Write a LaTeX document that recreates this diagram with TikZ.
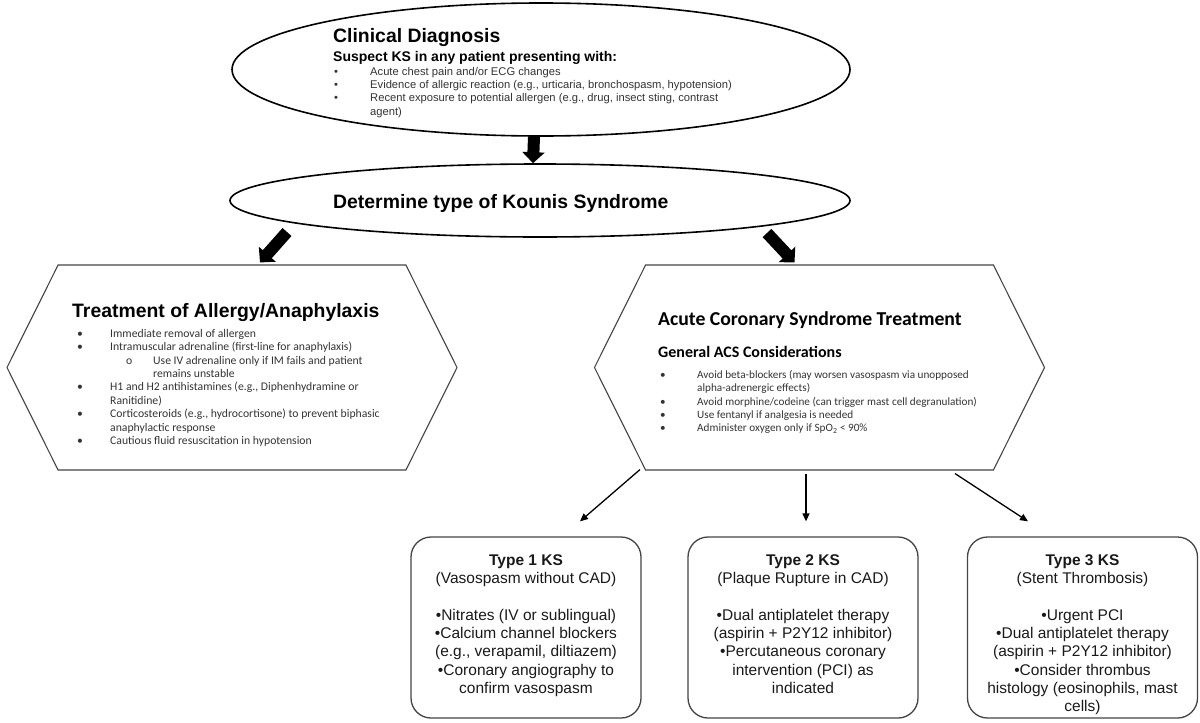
\documentclass[tikz,border=0pt]{standalone}
\usepackage{fontspec}
\setmainfont{Liberation Sans}
\newfontfamily\carl{Carlito}
\usetikzlibrary{shapes.geometric,shapes.symbols,arrows.meta}
\definecolor{ink}{HTML}{333333}
\definecolor{edge}{HTML}{444444}
\tikzstyle{oval} = [ellipse, draw=black, line width=1.6pt, inner sep=0pt]
\tikzstyle{hexa} = [signal, signal to=west and east, signal pointer angle=127, draw=edge, line width=1.1pt, minimum width=450pt, minimum height=205pt, inner sep=0pt]
\tikzstyle{kbox} = [rectangle, rounded corners=20pt, draw=edge, line width=1.3pt, minimum width=230pt, minimum height=181pt]
\tikzstyle{fat} = [line width=12pt, -{Triangle[width=22pt,length=11pt]}]
\tikzstyle{slim} = [line width=1.3pt, -{Triangle[width=7pt,length=8pt]}]
\tikzstyle{ttl} = [anchor=base west, inner sep=0pt, font=\bfseries\fontsize{19.4}{23}\selectfont]
\tikzstyle{pts} = [anchor=north west, align=left, inner sep=0pt, text=ink]
\tikzstyle{ktext} = [anchor=north, align=center, inner sep=0pt, text=black!90, font=\fontsize{15.5}{18.3}\selectfont]
\newcommand{\bt}[1]{\makebox[#1][l]{\textbullet}}

\begin{document}
\begin{tikzpicture}[x=1pt,y=-1pt]
\useasboundingbox (0,0) rectangle (1200,723);

\node[oval, minimum width=618pt, minimum height=133pt] (dx) at (541,69.5) {};
\node[ttl] (dxt) at (333,42) {Clinical Diagnosis};
\node[anchor=base west, inner sep=0pt, font=\bfseries\fontsize{14}{17}\selectfont] (dxs) at (333,61) {Suspect KS in any patient presenting with:};
\node[pts, font=\fontsize{11.2}{13.3}\selectfont] (dxl) at (334,67) {\bt{36pt}Acute chest pain and/or ECG changes\\
\bt{36pt}Evidence of allergic reaction (e.g., urticaria, bronchospasm, hypotension)\\
\bt{36pt}Recent exposure to potential allergen (e.g., drug, insect sting, contrast\\
\hspace*{36pt}agent)};

\node[oval, minimum width=620pt, minimum height=73pt] (kind) at (540,200.5) {};
\node[ttl] (kindt) at (333,208) {Determine type of Kounis Syndrome};

\node[hexa] (allg) at (232,367.5) {};
\node[ttl] (allgt) at (72,317) {Treatment of Allergy/Anaphylaxis};
\node[pts, font=\carl\fontsize{11.7}{13.4}\selectfont] (allgl) at (77,329) {\bt{33pt}Immediate removal of allergen\\
\bt{33pt}Intramuscular adrenaline (first-line for anaphylaxis)\\
\hspace*{49pt}\makebox[27pt][l]{o}Use IV adrenaline only if IM fails and patient\\
\hspace*{76pt}remains unstable\\
\bt{33pt}H1 and H2 antihistamines (e.g., Diphenhydramine or\\
\hspace*{33pt}Ranitidine)\\
\bt{33pt}Corticosteroids (e.g., hydrocortisone) to prevent biphasic\\
\hspace*{33pt}anaphylactic response\\
\bt{33pt}Cautious fluid resuscitation in hypotension};

\node[hexa] (acs) at (819.5,367.5) {};
\node[ttl, font=\carl\bfseries\fontsize{19.7}{23}\selectfont] (acst) at (658,325) {Acute Coronary Syndrome Treatment};
\node[ttl, font=\carl\bfseries\fontsize{16}{19}\selectfont] (acss) at (658,357) {General ACS Considerations};
\node[pts, font=\carl\fontsize{11.2}{13.4}\selectfont] (acsl) at (660,370) {\bt{37pt}Avoid beta-blockers (may worsen vasospasm via unopposed\\
\hspace*{37pt}alpha-adrenergic effects)\\
\bt{37pt}Avoid morphine/codeine (can trigger mast cell degranulation)\\
\bt{37pt}Use fentanyl if analgesia is needed\\
\bt{37pt}Administer oxygen only if SpO\textsubscript{2} < 90\%};

\node[kbox] (t1) at (526,627.5) {};
\node[kbox] (t2) at (803,627.5) {};
\node[kbox] (t3) at (1082.5,627.5) {};
\node[ktext] (t1t) at ([yshift=-18pt]t1.north) {\textbf{Type 1 KS}\\(Vasospasm without CAD)\\[18.3pt]
\textbullet Nitrates (IV or sublingual)\\\textbullet Calcium channel blockers\\(e.g., verapamil, diltiazem)\\\textbullet Coronary angiography to\\confirm vasospasm};
\node[ktext] (t2t) at ([yshift=-18pt]t2.north) {\textbf{Type 2 KS}\\(Plaque Rupture in CAD)\\[18.3pt]
\textbullet Dual antiplatelet therapy\\(aspirin + P2Y12 inhibitor)\\\textbullet Percutaneous coronary\\intervention (PCI) as\\indicated};
\node[ktext] (t3t) at ([yshift=-18pt]t3.north) {\textbf{Type 3 KS}\\(Stent Thrombosis)\\[18.3pt]
\textbullet Urgent PCI\\\textbullet Dual antiplatelet therapy\\(aspirin + P2Y12 inhibitor)\\\textbullet Consider thrombus\\histology (eosinophils, mast\\cells)};

\coordinate (la) at (287,232);
\coordinate (ra) at (767,233);
\draw[fat] ([xshift=-7pt]dx.south) -- ([xshift=-7pt]kind.north);
\draw[fat] (la) -- ([xshift=28pt,yshift=2pt]allg.north);
\draw[fat] (ra) -- ([xshift=-25pt,yshift=2pt]acs.north);
\draw[slim] ([xshift=-179.5pt,yshift=1pt]acs.south) -- ([xshift=54pt,yshift=15pt]t1.north);
\draw[slim] ([xshift=-13.5pt,yshift=-3pt]acs.south) -- ([xshift=3pt,yshift=15pt]t2.north);
\draw[slim] ([xshift=135.5pt,yshift=-3pt]acs.south) -- ([xshift=-54.5pt,yshift=15pt]t3.north);
\end{tikzpicture}
\end{document}
